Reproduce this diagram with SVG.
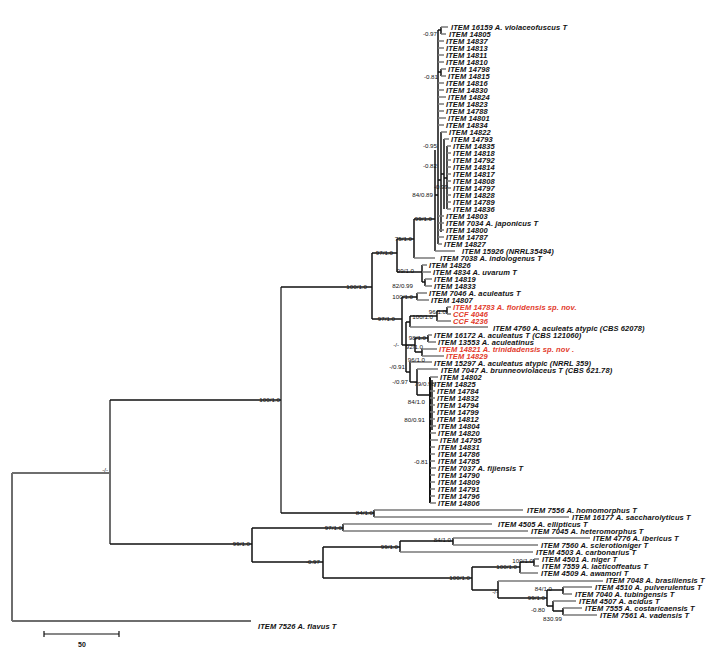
<svg xmlns="http://www.w3.org/2000/svg" width="714" height="661" viewBox="0 0 714 661">
<style>
.k{fill:none;stroke:#111;stroke-width:1.5}
.g{fill:none;stroke:#7a7a7a;stroke-width:1.5}
.gw{fill:none;stroke:#6e6e6e;stroke-width:2}
.lf{font-family:"Liberation Sans",Arial,sans-serif;font-style:italic;font-weight:bold;font-size:7.5px;letter-spacing:0.1px;fill:#111}
.red{fill:#e23a2b}
.bs{font-family:"Liberation Sans",Arial,sans-serif;font-size:6.2px;fill:#111;text-anchor:end}
</style>
<rect width="714" height="661" fill="#fff"/>
<g id="connectors">
<path class="gw" d="M12,473H110M12,473V621M12,621H251M110,400V544M281,287V513"/>
<path class="k" d="M110,400H281M281,287H372M372,253V319M372,253H397M397,239V272M397,239H414M414,219V258M414,219H435M435,150V251M435,195H438M438,30V244M438,30H441M441,27V34M438,72H441M441,69V76M438,180H441M441,132V232M441,174H444M444,139V209M444,178H447M447,146V209"/>
<path class="g" d="M441,27H448M441,34H446M438,41H444M438,48H444M438,55H444M438,62H444M441,69H446M441,76H446M438,83H444M438,90H444M438,97H446M438,104H444M438,111H444M438,118H446M438,125H444M441,132H447M444,139H449M447,146H451M447,153H451M447,160H451M447,167H451M447,174H451M447,181H451M447,188H451M447,195H451M447,202H451M447,209H451M438,216H444M438,223H444M438,230H444M438,237H444M438,244H442M435,251H455M414,258H435"/>
<path class="k" d="M397,272H422M422,265V282M422,282H425M425,279V286M372,319H402M402,297V345M402,297H417M417,293V300M402,345H406M406,322V372M406,322H410M410,316V327M410,316H437M437,311V321M437,311H447M447,307V314M406,345H415M415,338V352M415,338H428M428,335V342M415,352H422M422,349V356M406,372H410M410,362V382M410,382H417M417,369V395M417,395H430"/>
<path class="g" d="M422,265H427M422,272H431M425,279H432M425,286H432M417,293H427M417,300H429M447,307H451M447,314H451M437,321H451M410,327H488M428,335H432M428,342H436M422,349H437M422,356H444M410,362H432M417,369H438"/>
<path class="k" style="stroke-width:2" d="M430,377V503"/>
<path class="k" d="M432,380V430"/>
<path class="g" d="M430,377H438M430,391H435M430,398H435M430,405H435M430,412H435M430,419H435M430,426H436M430,433H436M430,440H438M430,447H435M430,454H435M430,461H435M430,468H436M430,475H435M430,482H435M430,489H435M430,496H435M430,503H436"/>
<path class="k" d="M281,513H374M374,510V517"/>
<path class="g" d="M374,510H523M374,517H569"/>
<path class="k" d="M110,544H252M252,528V562M252,528H343M343,524V531M252,562H323M323,547V578M323,547H400M400,541V552M400,541H453M453,538V545M323,578H472M472,567V590M472,567H520M520,562V573M520,562H534M534,559V566M472,590H498M498,581V598M498,598H547M547,590V606M547,590H563M563,587V594M547,606H553M553,601V611M553,611H563M563,608V615"/>
<path class="g" d="M343,524H492M343,531H528M453,538H590M453,545H538M400,552H533M534,559H539M534,566H539M520,573H538M498,581H603M563,587H592M563,594H572M553,601H576M563,608H582M563,615H597"/>
<path class="k" style="stroke-width:1.2" d="M44,634H119M44,631V637M119,631V637"/>
</g>
<g id="leaves">
<g id="n1"><text class="lf" x="451" y="29.7">ITEM 16159 A. violaceofuscus T</text></g>
<g id="n2"><text class="lf" x="449" y="36.7">ITEM 14805</text></g>
<g id="n3"><text class="lf" x="446" y="43.7">ITEM 14837</text></g>
<g id="n4"><text class="lf" x="446" y="50.7">ITEM 14813</text></g>
<g id="n5"><text class="lf" x="446" y="57.7">ITEM 14811</text></g>
<g id="n6"><text class="lf" x="446" y="64.7">ITEM 14810</text></g>
<g id="n7"><text class="lf" x="448" y="71.7">ITEM 14798</text></g>
<g id="n8"><text class="lf" x="448" y="78.7">ITEM 14815</text></g>
<g id="n9"><text class="lf" x="446" y="85.7">ITEM 14816</text></g>
<g id="n10"><text class="lf" x="446" y="92.7">ITEM 14830</text></g>
<g id="n11"><text class="lf" x="448" y="99.7">ITEM 14824</text></g>
<g id="n12"><text class="lf" x="446" y="106.7">ITEM 14823</text></g>
<g id="n13"><text class="lf" x="446" y="113.7">ITEM 14788</text></g>
<g id="n14"><text class="lf" x="448" y="120.7">ITEM 14801</text></g>
<g id="n15"><text class="lf" x="446" y="127.7">ITEM 14834</text></g>
<g id="n16"><text class="lf" x="449" y="134.7">ITEM 14822</text></g>
<g id="n17"><text class="lf" x="451" y="141.7">ITEM 14793</text></g>
<g id="n18"><text class="lf" x="453" y="148.7">ITEM 14835</text></g>
<g id="n19"><text class="lf" x="453" y="155.7">ITEM 14818</text></g>
<g id="n20"><text class="lf" x="453" y="162.7">ITEM 14792</text></g>
<g id="n21"><text class="lf" x="453" y="169.7">ITEM 14814</text></g>
<g id="n22"><text class="lf" x="453" y="176.7">ITEM 14817</text></g>
<g id="n23"><text class="lf" x="453" y="183.7">ITEM 14808</text></g>
<g id="n24"><text class="lf" x="453" y="190.7">ITEM 14797</text></g>
<g id="n25"><text class="lf" x="453" y="197.7">ITEM 14828</text></g>
<g id="n26"><text class="lf" x="453" y="204.7">ITEM 14789</text></g>
<g id="n27"><text class="lf" x="453" y="211.7">ITEM 14836</text></g>
<g id="n28"><text class="lf" x="446" y="218.7">ITEM 14803</text></g>
<g id="n29"><text class="lf" x="446" y="225.7">ITEM 7034 A. japonicus T</text></g>
<g id="n30"><text class="lf" x="446" y="232.7">ITEM 14800</text></g>
<g id="n31"><text class="lf" x="446" y="239.7">ITEM 14787</text></g>
<g id="n32"><text class="lf" x="444" y="246.7">ITEM 14827</text></g>
<g id="n33"><text class="lf" x="462" y="253.7">ITEM 15926 (NRRL35494)</text></g>
<g id="n34"><text class="lf" x="440" y="260.7">ITEM 7038 A. indologenus T</text></g>
<g id="n35"><text class="lf" x="429" y="267.7">ITEM 14826</text></g>
<g id="n36"><text class="lf" x="433" y="274.7">ITEM 4834 A. uvarum T</text></g>
<g id="n37"><text class="lf" x="434" y="281.7">ITEM 14819</text></g>
<g id="n38"><text class="lf" x="434" y="288.7">ITEM 14833</text></g>
<g id="n39"><text class="lf" x="429" y="295.7">ITEM 7046 A. aculeatus T</text></g>
<g id="n40"><text class="lf" x="431" y="302.7">ITEM 14807</text></g>
<g id="n41"><text class="lf red" x="453" y="309.7">ITEM 14783 A. floridensis sp. nov.</text></g>
<g id="n42"><text class="lf red" x="453" y="316.7">CCF 4046</text></g>
<g id="n43"><text class="lf red" x="453" y="323.7">CCF 4236</text></g>
<g id="n44"><text class="lf" x="493" y="330.7">ITEM 4760 A. aculeats atypic (CBS 62078)</text></g>
<g id="n45"><text class="lf" x="434" y="337.7">ITEM 16172 A. aculeatus T (CBS 121060)</text></g>
<g id="n46"><text class="lf" x="438" y="344.7">ITEM 13553 A. aculeatinus</text></g>
<g id="n47"><text class="lf red" x="439" y="351.7">ITEM 14821 A. trinidadensis sp. nov .</text></g>
<g id="n48"><text class="lf red" x="446" y="358.7">ITEM 14829</text></g>
<g id="n49"><text class="lf" x="434" y="365.7">ITEM 15297 A. aculeatus atypic (NRRL 359)</text></g>
<g id="n50"><text class="lf" x="441" y="372.7">ITEM 7047 A. brunneoviolaceus T (CBS 621.78)</text></g>
<g id="n51"><text class="lf" x="440" y="379.7">ITEM 14802</text></g>
<g id="n52"><text class="lf" x="434" y="386.7">ITEM 14825</text></g>
<g id="n53"><text class="lf" x="437" y="393.7">ITEM 14784</text></g>
<g id="n54"><text class="lf" x="437" y="400.7">ITEM 14832</text></g>
<g id="n55"><text class="lf" x="437" y="407.7">ITEM 14794</text></g>
<g id="n56"><text class="lf" x="437" y="414.7">ITEM 14799</text></g>
<g id="n57"><text class="lf" x="437" y="421.7">ITEM 14812</text></g>
<g id="n58"><text class="lf" x="438" y="428.7">ITEM 14804</text></g>
<g id="n59"><text class="lf" x="438" y="435.7">ITEM 14820</text></g>
<g id="n60"><text class="lf" x="440" y="442.7">ITEM 14795</text></g>
<g id="n61"><text class="lf" x="438" y="449.7">ITEM 14831</text></g>
<g id="n62"><text class="lf" x="438" y="456.7">ITEM 14786</text></g>
<g id="n63"><text class="lf" x="438" y="463.7">ITEM 14785</text></g>
<g id="n64"><text class="lf" x="438" y="470.7">ITEM 7037 A. fijiensis T</text></g>
<g id="n65"><text class="lf" x="438" y="477.7">ITEM 14790</text></g>
<g id="n66"><text class="lf" x="438" y="484.7">ITEM 14809</text></g>
<g id="n67"><text class="lf" x="438" y="491.7">ITEM 14791</text></g>
<g id="n68"><text class="lf" x="438" y="498.7">ITEM 14796</text></g>
<g id="n69"><text class="lf" x="438" y="505.7">ITEM 14806</text></g>
<g id="n70"><text class="lf" x="527" y="512.7">ITEM 7556 A. homomorphus T</text></g>
<g id="n71"><text class="lf" x="572" y="519.7">ITEM 16177 A. saccharolyticus T</text></g>
<g id="n72"><text class="lf" x="498" y="526.7">ITEM 4505 A. ellipticus T</text></g>
<g id="n73"><text class="lf" x="531" y="533.7">ITEM 7045 A. heteromorphus T</text></g>
<g id="n74"><text class="lf" x="593" y="540.7">ITEM 4776 A. ibericus T</text></g>
<g id="n75"><text class="lf" x="541" y="547.7">ITEM 7560 A. sclerotioniger T</text></g>
<g id="n76"><text class="lf" x="536" y="554.7">ITEM 4503 A. carbonarius T</text></g>
<g id="n77"><text class="lf" x="542" y="561.7">ITEM 4501 A. niger T</text></g>
<g id="n78"><text class="lf" x="542" y="568.7">ITEM 7559 A. lacticoffeatus T</text></g>
<g id="n79"><text class="lf" x="541" y="575.7">ITEM 4509 A. awamori T</text></g>
<g id="n80"><text class="lf" x="606" y="582.7">ITEM 7048 A. brasiliensis T</text></g>
<g id="n81"><text class="lf" x="595" y="589.7">ITEM 4510 A. pulverulentus T</text></g>
<g id="n82"><text class="lf" x="575" y="596.7">ITEM 7040 A. tubingensis T</text></g>
<g id="n83"><text class="lf" x="579" y="603.7">ITEM 4507 A. acidus T</text></g>
<g id="n84"><text class="lf" x="585" y="610.7">ITEM 7555 A. costaricaensis T</text></g>
<g id="n85"><text class="lf" x="600" y="617.7">ITEM 7561 A. vadensis T</text></g>
<g id="n86"><text class="lf" x="258" y="628.7">ITEM 7526 A. flavus T</text></g>
</g>
<g id="support">
<text class="bs" x="437" y="36.2">-0.97</text>
<text class="bs" x="438" y="79.2">-0.81</text>
<text class="bs" x="437" y="148.2">-0.95</text>
<text class="bs" x="437" y="168.2">-0.82</text>
<text class="bs" x="448" y="189.2">-0.99</text>
<text class="bs" x="433" y="197.2">84/0.89</text>
<text class="bs" x="432" y="221.2">99/1.0</text>
<text class="bs" x="412" y="241.2">75/1.0</text>
<text class="bs" x="393" y="255.2">97/1.0</text>
<text class="bs" x="414" y="273.2">99/1.0</text>
<text class="bs" x="413" y="288.2">82/0.99</text>
<text class="bs" x="413" y="299.2">100/1.0</text>
<text class="bs" x="446" y="314.2">96/1.0</text>
<text class="bs" x="433" y="319.2">100/1.0</text>
<text class="bs" x="395" y="321.2">97/1.0</text>
<text class="bs" x="426" y="340.2">98/1.0</text>
<text class="bs" x="399" y="347.2">-/-</text>
<text class="bs" x="423" y="349.2">92/1.0</text>
<text class="bs" x="425" y="362.2">96/1.0</text>
<text class="bs" x="405" y="369.2">-/0.91</text>
<text class="bs" x="408" y="384.2">-/0.97</text>
<text class="bs" x="435" y="386.2">79/0.98</text>
<text class="bs" x="425" y="404.2">84/1.0</text>
<text class="bs" x="425" y="422.2">80/0.91</text>
<text class="bs" x="428" y="464.2">-0.81</text>
<text class="bs" x="367" y="289.2">100/1.0</text>
<text class="bs" x="280" y="402.2">100/1.0</text>
<text class="bs" x="108" y="472.2">-/-</text>
<text class="bs" x="373" y="515.2">84/1.0</text>
<text class="bs" x="342" y="530.2">97/1.0</text>
<text class="bs" x="250" y="546.2">99/1.0</text>
<text class="bs" x="398" y="549.2">99/1.0</text>
<text class="bs" x="451" y="542.2">84/1.0</text>
<text class="bs" x="320" y="564.2">-0.97</text>
<text class="bs" x="533" y="563.2">100/1.0</text>
<text class="bs" x="517" y="569.2">100/1.0</text>
<text class="bs" x="470" y="580.2">100/1.0</text>
<text class="bs" x="498" y="594.2">-/-</text>
<text class="bs" x="552" y="591.2">84/1.0</text>
<text class="bs" x="545" y="600.2">99/1.0</text>
<text class="bs" x="545" y="612.2">-0.80</text>
<text class="bs" x="562" y="621.2">830.99</text>
</g>
<g id="scale"><text x="82" y="647" text-anchor="middle" font-family="Liberation Sans, Arial, sans-serif" font-size="7px" font-weight="bold" fill="#111">50</text></g>
</svg>
